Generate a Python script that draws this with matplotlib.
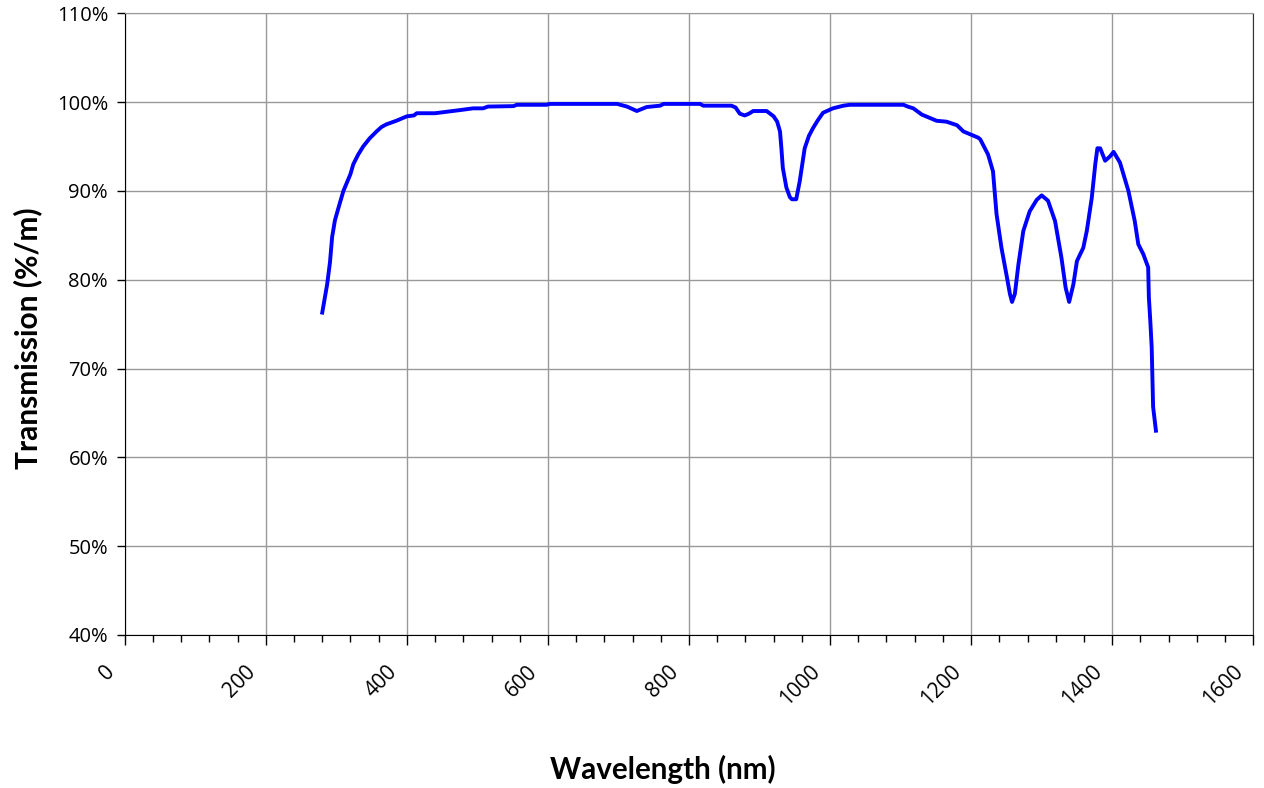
import matplotlib.pyplot as plt
from matplotlib.ticker import MultipleLocator, FuncFormatter
from matplotlib.transforms import ScaledTranslation

wavelength = [280, 287, 291, 294, 298, 303, 310, 320, 324, 331, 338, 347, 357, 364,
              371, 385, 400, 410, 414, 440, 475, 494, 508, 515, 551, 556, 598, 603,
              698, 712, 726, 740, 759, 764, 816, 820, 860, 866, 872, 879, 885, 891,
              910, 920, 925, 929, 931, 933, 938, 943, 946, 952, 957, 964, 970, 976,
              983, 990, 1004, 1019, 1028, 1104, 1110, 1118, 1130, 1151, 1165, 1180,
              1189, 1210, 1213, 1224, 1231, 1236, 1243, 1250, 1255, 1258, 1262, 1267,
              1274, 1283, 1293, 1300, 1309, 1319, 1328, 1334, 1339, 1345, 1350, 1359,
              1364, 1371, 1376, 1379, 1383, 1390, 1397, 1402, 1411, 1423, 1432, 1437,
              1444, 1451, 1452, 1454, 1456, 1458, 1462]
transmission = [76.3, 79.5, 82.0, 84.8, 86.7, 88.1, 90.0, 91.9, 93.0, 94.1, 95.0, 95.9,
                96.7, 97.2, 97.5, 97.9, 98.4, 98.5, 98.75, 98.75, 99.1, 99.3, 99.3, 99.5,
                99.55, 99.7, 99.7, 99.8, 99.8, 99.5, 99.0, 99.45, 99.6, 99.8, 99.8, 99.6,
                99.6, 99.4, 98.7, 98.5, 98.7, 99.0, 99.0, 98.4, 97.8, 96.7, 94.8, 92.6,
                90.4, 89.3, 89.06, 89.06, 91.1, 94.8, 96.2, 97.1, 98.0, 98.8, 99.3, 99.6,
                99.7, 99.7, 99.5, 99.3, 98.6, 97.9, 97.8, 97.4, 96.7, 96.0, 95.8, 94.1,
                92.2, 87.4, 83.6, 80.6, 78.4, 77.5, 78.4, 81.7, 85.5, 87.7, 89.0, 89.5,
                88.9, 86.6, 82.5, 79.1, 77.5, 79.5, 82.1, 83.6, 85.5, 89.2, 93.0, 94.8,
                94.8, 93.4, 93.9, 94.4, 93.2, 90.0, 86.6, 84.0, 82.9, 81.4, 78.0, 75.4,
                72.4, 65.7, 63.0]

plt.rcParams['font.family'] = ['Lato', 'DejaVu Sans']

fig = plt.figure(figsize=(12.64, 7.88), dpi=100)
ax = fig.add_axes([0.0987, 0.1942, 0.8928, 0.7889])

ax.plot(wavelength, transmission, color='#0000FF', linewidth=2.8)

ax.set_xlim(0, 1600)
ax.set_ylim(40, 110)
ax.xaxis.set_major_locator(MultipleLocator(200))
ax.xaxis.set_minor_locator(MultipleLocator(40))
ax.yaxis.set_major_locator(MultipleLocator(10))
ax.yaxis.set_major_formatter(FuncFormatter(lambda v, p: "%d%%" % v))

ax.grid(True, which='major', color='#999999', linewidth=1)
ax.set_axisbelow(True)
ax.spines['left'].set_color('black')
ax.spines['bottom'].set_color('black')
ax.spines['top'].set_color('#999999')
ax.spines['right'].set_color('#333333')

ax.tick_params(axis='x', which='major', length=7, width=1, direction='out', pad=0,
               labelsize=15, labelfontfamily='Open Sans', labelrotation=45)
ax.tick_params(axis='x', which='minor', length=5, width=1, direction='out')
ax.tick_params(axis='y', which='major', length=6, width=1, direction='out', pad=6,
               labelsize=14.5, labelfontfamily='Open Sans')

offset = ScaledTranslation(-15 / 72, -12 / 72, fig.dpi_scale_trans)
for label in ax.get_xticklabels():
    label.set_ha('right')
    label.set_va('top')
    label.set_rotation_mode('anchor')
    label.set_transform(label.get_transform() + offset)

ax.set_xlabel("Wavelength (nm)", fontsize=21.3, fontweight='bold')
ax.set_ylabel("Transmission (%/m)", fontsize=21.5, fontweight='bold')
ax.xaxis.set_label_coords(0.477, -0.217)
ax.xaxis.label.set_va('center')
ax.yaxis.set_label_coords(-0.086, 0.478)
ax.yaxis.label.set_va('center')

plt.savefig("out.png", dpi=100)
